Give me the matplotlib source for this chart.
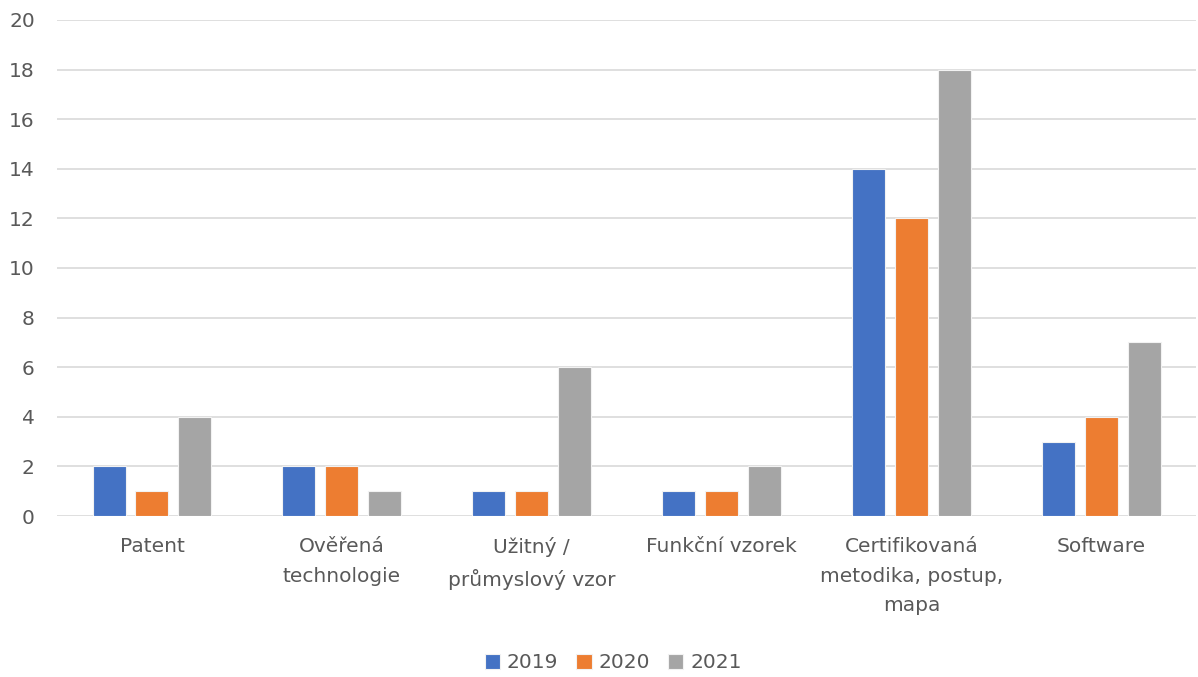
import matplotlib.pyplot as plt
import numpy as np

plt.rcParams['font.family'] = ['DejaVu Sans']

categories = ['Patent', 'Ověřená\ntechnologie', 'Užitný /\nprůmyslový vzor',
              'Funkční vzorek', 'Certifikovaná\nmetodika, postup,\nmapa', 'Software']
years = ['2019', '2020', '2021']
v2019 = [2, 2, 1, 1, 14, 3]
v2020 = [1, 2, 1, 1, 12, 4]
v2021 = [4, 1, 6, 2, 18, 7]
colors = ['#4472C4', '#ED7D31', '#A5A5A5']

fig = plt.figure(figsize=(11.98, 6.77), dpi=100)
ax = fig.add_axes([0.0476, 0.2378, 0.951, 0.7327])

x = np.arange(len(categories))
w = 0.174
step = 0.226
for i, (vals, c, lab) in enumerate(zip([v2019, v2020, v2021], colors, years)):
    ax.bar(x + (i - 1) * step, vals, width=w, color=c, label=lab,
           edgecolor='#F2F2F2', linewidth=0.8, zorder=3)

ax.set_xlim(-0.5, len(categories) - 0.5)
ax.set_ylim(0, 20)
ax.set_yticks(range(0, 21, 2))
ax.yaxis.grid(True, color='#D9D9D9', linewidth=1.2, zorder=0)
for s in ax.spines.values():
    s.set_visible(False)
ax.tick_params(axis='both', length=0, colors='#595959', labelsize=14.5)
ax.tick_params(axis='y', pad=16)
ax.tick_params(axis='x', pad=15)
ax.set_xticks(x)
ax.set_xticklabels(categories, linespacing=1.72)

leg = fig.legend(loc='center', bbox_to_anchor=(0.512, 0.021), ncol=3, frameon=False,
                 fontsize=14.5, handlelength=0.75, handleheight=0.75,
                 handletextpad=0.35, columnspacing=0.9)
for t in leg.get_texts():
    t.set_color('#595959')

fig.savefig('out.png', dpi=100)
